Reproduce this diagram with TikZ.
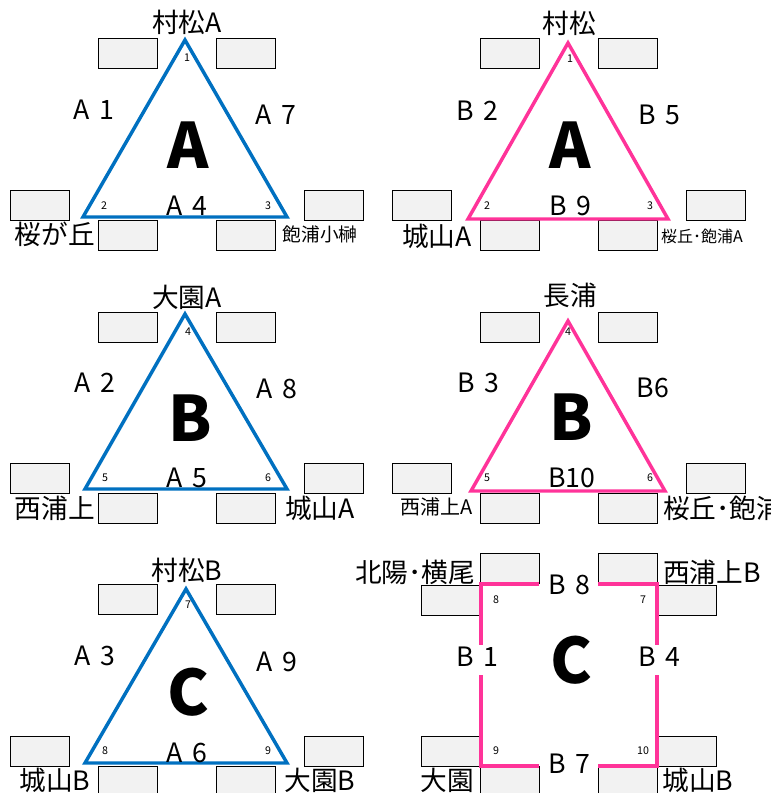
\documentclass[tikz,border=0pt]{standalone}
\usepackage{fontspec}
\setmainfont{Noto Sans CJK JP}
\definecolor{triblue}{HTML}{0070C0}
\definecolor{sqpink}{HTML}{FF3399}
\definecolor{seatgray}{HTML}{F2F2F2}
\tikzset{
  seat/.style={draw=black, fill=seatgray, line width=0.75pt, minimum width=44.25pt, minimum height=22.5pt, inner sep=0pt},
  townlbl/.style={font=\fontsize{20}{20}\selectfont, inner sep=0pt},
  smalltown/.style={font=\fontsize{14}{14}\selectfont, inner sep=0pt},
  edgelbl/.style={font=\fontsize{20}{20}\selectfont, inner sep=0pt},
  biglbl/.style={font=\fontsize{47}{47}\selectfont\bfseries, inner sep=0pt},
  numlbl/.style={font=\fontsize{8}{8}\selectfont, inner sep=0pt},
  blueline/.style={draw=triblue, line width=2.6pt},
  pinkline/.style={draw=sqpink, line width=2.6pt},
  pinkbold/.style={draw=sqpink, line width=3.4pt}
}
\begin{document}
\begin{tikzpicture}[x=0.75pt, y=-0.75pt]
  \useasboundingbox (0,0) rectangle (771,793);

  % Triangle A, blue
  \node[seat] (a1tl) at (127.5,53) {};
  \node[seat] (a1tr) at (245.5,53) {};
  \node[seat] (a1l) at (39.5,205) {};
  \node[seat] (a1ul) at (127.5,235) {};
  \node[seat] (a1ur) at (245.5,235) {};
  \node[seat] (a1r) at (333.5,205) {};
  \coordinate (a1n) at (185,40);
  \coordinate (a1w) at (83,217);
  \coordinate (a1e) at (287,217);
  \draw[blueline] (a1n) -- (a1w) -- (a1e) -- cycle;
  \node[townlbl] (a1top) at (187,22) {村松A};
  \node[edgelbl] (a1el) at (94,110) {A\hspace{.35em}1};
  \node[edgelbl] (a1er) at (276,115) {A\hspace{.35em}7};
  \node[edgelbl] (a1eb) at (187,206) {A\hspace{.35em}4};
  \node[biglbl] (a1big) at (188,145) {A};
  \node[numlbl] (a1k1) at (187,58) {1};
  \node[numlbl] (a1k2) at (104,206) {2};
  \node[numlbl] (a1k3) at (268,206) {3};
  \node[townlbl] (a1bl) at (55,234) {桜が丘};
  \node[smalltown] (a1br) at (320,234) {飽浦小榊};

  % Triangle A, pink
  \node[seat] (b1tl) at (510,53) {};
  \node[seat] (b1tr) at (627.5,53) {};
  \node[seat] (b1l) at (422,205) {};
  \node[seat] (b1ul) at (510,235) {};
  \node[seat] (b1ur) at (627.5,235) {};
  \node[seat] (b1r) at (716,205) {};
  \coordinate (b1n) at (568,43);
  \coordinate (b1w) at (468,219);
  \coordinate (b1e) at (668,219);
  \draw[pinkline] (b1n) -- (b1w) -- (b1e) -- cycle;
  \node[townlbl] (b1top) at (569,23) {村松};
  \node[edgelbl] (b1el) at (477,111) {B\hspace{.35em}2};
  \node[edgelbl] (b1er) at (659,115) {B\hspace{.35em}5};
  \node[edgelbl] (b1eb) at (570,206) {B\hspace{.35em}9};
  \node[biglbl] (b1big) at (570,145) {A};
  \node[numlbl] (b1k1) at (570,59) {1};
  \node[numlbl] (b1k2) at (487,206) {2};
  \node[numlbl] (b1k3) at (650,206) {3};
  \node[townlbl] (b1bl) at (437,236) {城山A};
  \node[smalltown, font=\fontsize{12}{12}\selectfont] (b1br) at (702,236) {桜丘･飽浦A};

  % Triangle B, blue
  \node[seat] (a2tl) at (127.5,327) {};
  \node[seat] (a2tr) at (245.5,327) {};
  \node[seat] (a2l) at (39.5,478) {};
  \node[seat] (a2ul) at (127.5,508) {};
  \node[seat] (a2ur) at (245.5,508) {};
  \node[seat] (a2r) at (333.5,478) {};
  \coordinate (a2n) at (185,314);
  \coordinate (a2w) at (85,489);
  \coordinate (a2e) at (287,489);
  \draw[blueline] (a2n) -- (a2w) -- (a2e) -- cycle;
  \node[townlbl] (a2top) at (187,297) {大園A};
  \node[edgelbl] (a2el) at (95,383) {A\hspace{.35em}2};
  \node[edgelbl] (a2er) at (277,389) {A\hspace{.35em}8};
  \node[edgelbl] (a2eb) at (187,478) {A\hspace{.35em}5};
  \node[biglbl] (a2big) at (190,418) {B};
  \node[numlbl] (a2k4) at (188,332) {4};
  \node[numlbl] (a2k5) at (105,478) {5};
  \node[numlbl] (a2k6) at (268,478) {6};
  \node[townlbl] (a2bl) at (55,508) {西浦上};
  \node[townlbl] (a2br) at (320,508) {城山A};

  % Triangle B, pink
  \node[seat] (b2tl) at (510,327) {};
  \node[seat] (b2tr) at (627.5,327) {};
  \node[seat] (b2l) at (422,478) {};
  \node[seat] (b2ul) at (510,508) {};
  \node[seat] (b2ur) at (627.5,508) {};
  \node[seat] (b2r) at (716,478) {};
  \coordinate (b2n) at (568,321);
  \coordinate (b2w) at (471,491);
  \coordinate (b2e) at (665,491);
  \draw[pinkline] (b2n) -- (b2w) -- (b2e) -- cycle;
  \node[townlbl] (b2top) at (570,295) {長浦};
  \node[edgelbl] (b2el) at (478,383) {B\hspace{.35em}3};
  \node[edgelbl] (b2er) at (653,388) {B6};
  \node[edgelbl] (b2eb) at (572,478) {B10};
  \node[biglbl] (b2big) at (571,417) {B};
  \node[numlbl] (b2k4) at (568,332) {4};
  \node[numlbl] (b2k5) at (487,478) {5};
  \node[numlbl] (b2k6) at (650,478) {6};
  \node[smalltown, font=\fontsize{15}{15}\selectfont] (b2bl) at (437,507) {西浦上A};
  \node[townlbl, anchor=west] (b2br) at (663,508) {桜丘･飽浦};

  % Triangle C, blue
  \node[seat] (a3tl) at (127.5,599.5) {};
  \node[seat] (a3tr) at (245.5,599.5) {};
  \node[seat] (a3l) at (39.5,751.5) {};
  \node[seat] (a3ul) at (127.5,781) {};
  \node[seat] (a3ur) at (245.5,781) {};
  \node[seat] (a3r) at (333.5,751.5) {};
  \coordinate (a3n) at (186,589);
  \coordinate (a3w) at (85,763);
  \coordinate (a3e) at (287,763);
  \draw[blueline] (a3n) -- (a3w) -- (a3e) -- cycle;
  \node[townlbl] (a3top) at (187,570) {村松B};
  \node[edgelbl] (a3el) at (95,656) {A\hspace{.35em}3};
  \node[edgelbl] (a3er) at (277,662) {A\hspace{.35em}9};
  \node[edgelbl] (a3eb) at (187,753) {A\hspace{.35em}6};
  \node[biglbl] (a3big) at (188,692) {C};
  \node[numlbl] (a3k7) at (188,605) {7};
  \node[numlbl] (a3k8) at (105,751) {8};
  \node[numlbl] (a3k9) at (268,751) {9};
  \node[townlbl] (a3bl) at (55,780) {城山B};
  \node[townlbl] (a3br) at (320,780) {大園B};

  % Square C, pink
  \node[seat] (c1tl) at (509.5,568.5) {};
  \node[seat] (c1tr) at (627.5,568.5) {};
  \node[seat] (c1l) at (451,600) {};
  \node[seat] (c1r) at (686.5,600) {};
  \node[seat] (c1bl) at (451,751.5) {};
  \node[seat] (c1br) at (686.5,751.5) {};
  \node[seat] (c1ul) at (509.5,781) {};
  \node[seat] (c1ur) at (627.5,781) {};
  \coordinate (c1nw) at (481,584);
  \coordinate (c1ne) at (657,584);
  \coordinate (c1sw) at (481,766);
  \coordinate (c1se) at (657,766);
  \draw[pinkbold] (539,584) -- (c1nw) -- (481,645);
  \draw[pinkbold] (598,584) -- (c1ne) -- (657,645);
  \draw[pinkbold] (539,766) -- (c1sw) -- (481,675);
  \draw[pinkbold] (598,766) -- (c1se) -- (657,675);
  \node[townlbl] (c1tlname) at (415,572) {北陽･横尾};
  \node[townlbl, anchor=west] (c1trname) at (663,572) {西浦上B};
  \node[edgelbl] (c1et) at (569,585) {B\hspace{.35em}8};
  \node[edgelbl] (c1el) at (477,657) {B\hspace{.35em}1};
  \node[edgelbl] (c1er) at (659,657) {B\hspace{.35em}4};
  \node[edgelbl] (c1eb) at (569,764) {B\hspace{.35em}7};
  \node[biglbl] (c1big) at (571,660) {C};
  \node[numlbl] (c1k8) at (496,600) {8};
  \node[numlbl] (c1k7) at (643,600) {7};
  \node[numlbl] (c1k9) at (496,751) {9};
  \node[numlbl] (c1k10) at (643,751) {10};
  \node[townlbl] (c1blname) at (447,780) {大園};
  \node[townlbl] (c1brname) at (698,780) {城山B};

\end{tikzpicture}
\end{document}
